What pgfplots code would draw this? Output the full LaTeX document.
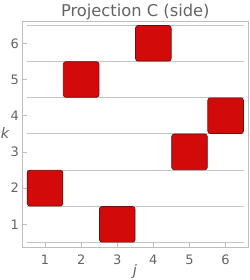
\documentclass[border=0pt]{standalone}
\usepackage{fontspec}
\setmainfont{DejaVu Sans}
\usepackage{pgfplots}
\pgfplotsset{compat=1.18}
\definecolor{cubered}{RGB}{210,10,10}
\definecolor{cubedark}{RGB}{115,12,12}
\definecolor{txtgray}{RGB}{100,100,100}
\definecolor{gridgray}{RGB}{195,195,195}
\definecolor{framegray}{RGB}{190,190,190}
\pgfdeclareplotmark{rsq}{%
 \pgfsetcornersarced{\pgfpoint{2.5pt}{2.5pt}}%
 \pgfpathmoveto{\pgfpoint{0pt}{-\pgfplotmarksize}}%
 \pgfpathlineto{\pgfpoint{\pgfplotmarksize}{-\pgfplotmarksize}}%
 \pgfpathlineto{\pgfpoint{\pgfplotmarksize}{\pgfplotmarksize}}%
 \pgfpathlineto{\pgfpoint{-\pgfplotmarksize}{\pgfplotmarksize}}%
 \pgfpathlineto{\pgfpoint{-\pgfplotmarksize}{-\pgfplotmarksize}}%
 \pgfpathclose
 \pgfusepath{fill,stroke}}
\begin{document}
\begin{tikzpicture}
\useasboundingbox (-22.7pt,-33pt) rectangle (226.3pt,247pt);
\begin{axis}[
 at={(0,0)}, anchor=south west, scale only axis,
 width=225.3pt, height=226pt,
 xmin=0.382, xmax=6.62, ymin=0.373, ymax=6.616,
 xtick={1,2,3,4,5,6}, ytick={1,2,3,4,5,6},
 tick pos=left, tick align=inside, major tick length=4pt,
 tick style={framegray, line width=0.6pt},
 axis line style={framegray, line width=0.7pt},
 xticklabel style={anchor=base, yshift=-17.5pt, font=\fontsize{13}{15}\selectfont, text=txtgray},
 yticklabel style={anchor=center, xshift=-8pt, font=\fontsize{13}{15}\selectfont, text=txtgray},
 /pgf/number format/assume math mode=true,
 clip=false,
]
\addplot[gridgray, line width=0.9pt, no marks] coordinates {(0.5,0.5) (6.5,0.5)};
\addplot[gridgray, line width=0.9pt, no marks] coordinates {(0.5,1.5) (6.5,1.5)};
\addplot[gridgray, line width=0.9pt, no marks] coordinates {(0.5,2.5) (6.5,2.5)};
\addplot[gridgray, line width=0.9pt, no marks] coordinates {(0.5,3.5) (6.5,3.5)};
\addplot[gridgray, line width=0.9pt, no marks] coordinates {(0.5,4.5) (6.5,4.5)};
\addplot[gridgray, line width=0.9pt, no marks] coordinates {(0.5,5.5) (6.5,5.5)};
\addplot[gridgray, line width=0.9pt, no marks] coordinates {(0.5,6.5) (6.5,6.5)};
\addplot[only marks, mark=rsq, mark size=17.8pt,
  mark options={fill=cubered, draw=cubedark, line width=0.7pt}]
  coordinates {(1,2) (2,5) (3,1) (4,6) (5,3) (6,4)};
\end{axis}
\node[anchor=base, text=txtgray, font=\fontsize{16.3}{19}\selectfont] at (112.6pt,230.3pt) {Projection C (side)};
\node[anchor=base, text=txtgray, font=\fontsize{14.5}{16}\selectfont\itshape] at (112.3pt,-28pt) {j};
\node[anchor=base, text=txtgray, font=\fontsize{14.5}{16}\selectfont\itshape] at (-17.7pt,108pt) {k};
\end{tikzpicture}
\end{document}
